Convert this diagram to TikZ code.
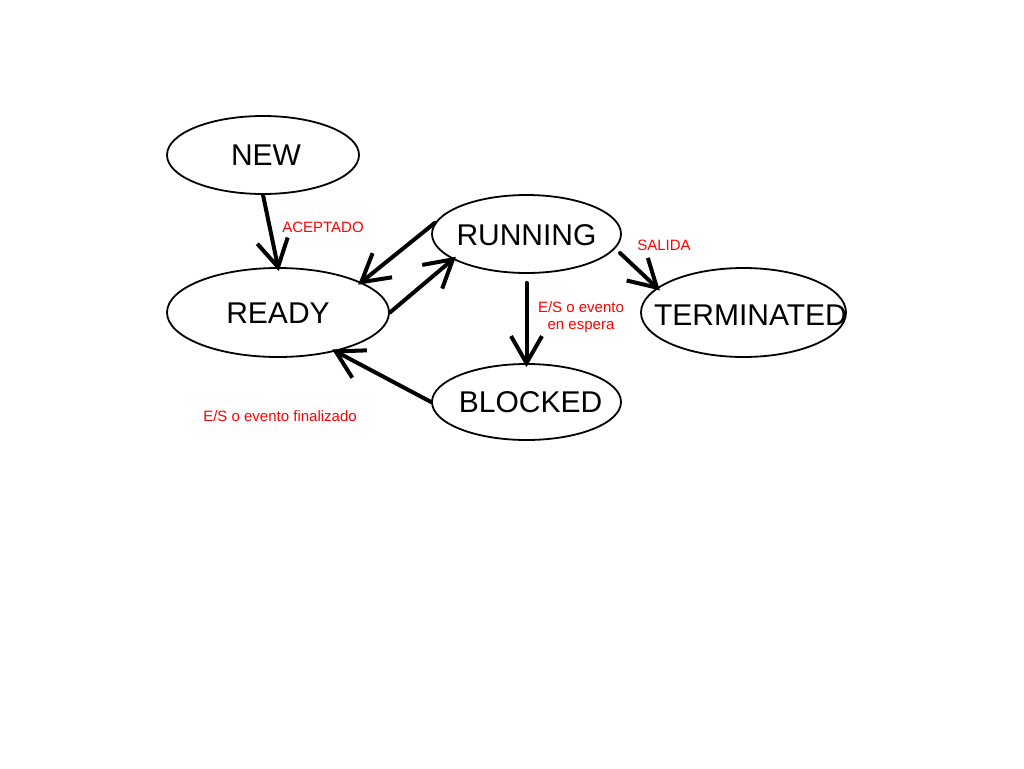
\documentclass[tikz,border=0pt]{standalone}
\usepackage{fontspec}
\setmainfont{Liberation Sans}
\usetikzlibrary{shapes.geometric,arrows.meta}
\begin{document}
\begin{tikzpicture}[x=1pt,y=-1pt,
 state/.style={ellipse, draw, line width=1.8pt, inner sep=0pt},
 statetext/.style={font=\fontsize{30}{36}\selectfont, inner sep=0pt},
 lbl/.style={text=red, font=\fontsize{15}{18}\selectfont, align=center, inner sep=0pt},
 conn/.style={line width=4pt, line cap=round, shorten >=-4pt, -{Straight Barb[length=27pt,width=31pt]}}
]
\useasboundingbox[fill=white] (0,0) rectangle (1024,768);

\node[state, minimum width=192pt, minimum height=78pt] (new) at (263,155) {};
\node[state, minimum width=222pt, minimum height=89pt] (ready) at (278,312.5) {};
\node[state, minimum width=189pt, minimum height=78pt] (running) at (526.5,234) {};
\node[state, minimum width=205pt, minimum height=89pt] (term) at (743.5,312.5) {};
\node[state, minimum width=189pt, minimum height=76pt] (blocked) at (526.5,402) {};

\node[statetext] (newtxt) at ([xshift=3pt]new.center) {NEW};
\node[statetext] (readytxt) at ([yshift=-1pt]ready.center) {READY};
\node[statetext] (runningtxt) at ([yshift=-1pt]running.center) {RUNNING};
\node[statetext] (termtxt) at ([xshift=7pt,yshift=-3pt]term.center) {TERMINATED};
\node[statetext] (blockedtxt) at ([xshift=4pt]blocked.center) {BLOCKED};

\draw[conn] (new.south) -- (ready.north);
\draw[conn] (running.173) -- (ready.20);
\draw[conn] (ready.east) -- (running.199.5);
\draw[conn, shorten <=9pt] (running.south) -- (blocked.north);
\draw[conn] (blocked.west) -- (ready.326);
\draw[conn] ([xshift=93.5pt,yshift=-19pt]running.center) -- (term.164);

\node[lbl] (l1) at (323,227) {ACEPTADO};
\node[lbl] (l2) at (664,245) {SALIDA};
\node[lbl] (l3) at (581,317) {E/S o evento\\[-0.5pt]en espera};
\node[lbl] (l4) at (280,416) {E/S o evento finalizado};
\end{tikzpicture}
\end{document}
